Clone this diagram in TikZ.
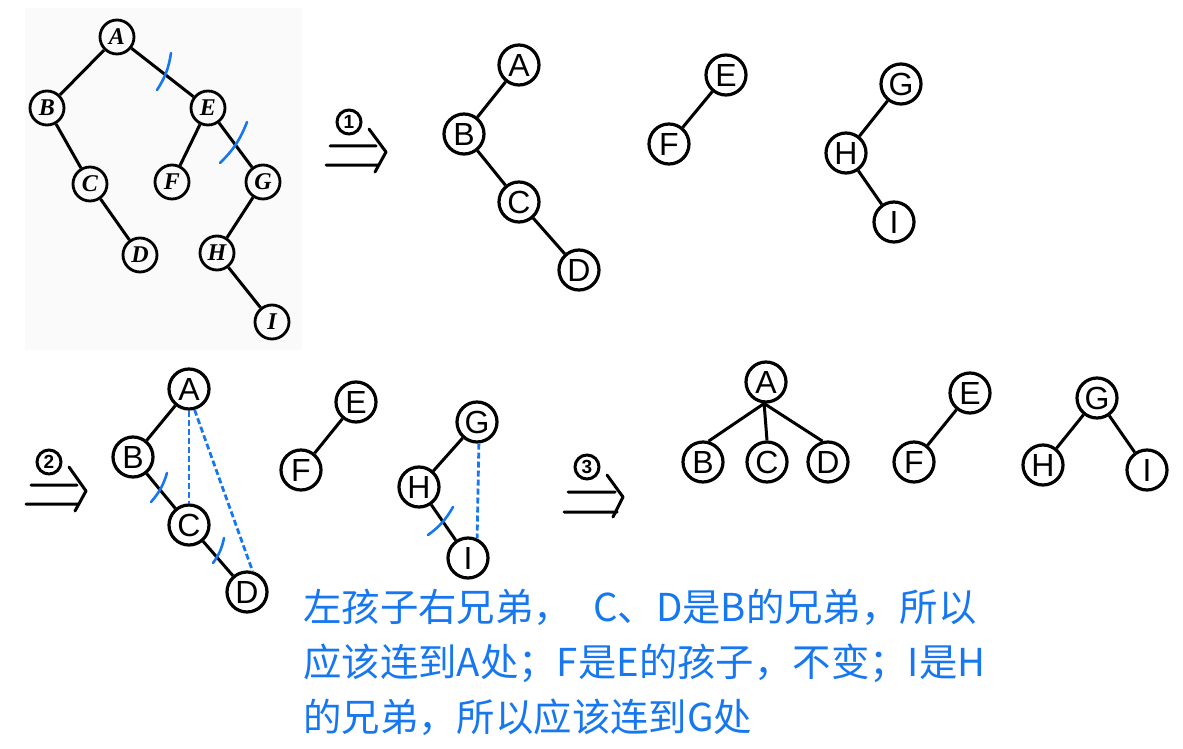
\documentclass[tikz,border=0pt]{standalone}
\usepackage{fontspec}
\setmainfont{Liberation Sans}
\newfontfamily\cjk{Noto Sans CJK SC}
\newfontfamily\printed{Liberation Serif}
\definecolor{hblue}{RGB}{22,119,240}
\definecolor{bgray}{RGB}{250,250,250}
\begin{document}
\begin{tikzpicture}[x=1pt,y=-1pt,
  onode/.style={circle,draw,line width=2.8pt,minimum size=34pt,inner sep=0pt,font=\printed\bfseries\itshape\fontsize{24}{24}\selectfont},
  hnode/.style={circle,draw,line width=3.2pt,minimum size=40pt,inner sep=0pt,font=\fontsize{32}{32}\selectfont},
  edge/.style={line width=3pt},
  dashedge/.style={hblue,line width=2.8pt,dash pattern=on 6pt off 3pt},
  cut/.style={hblue,line width=2.6pt,line cap=round},
  numc/.style={circle,draw,line width=3pt,minimum size=24pt,inner sep=0pt,font=\bfseries\fontsize{19}{19}\selectfont},
  arr/.style={line width=3pt,line cap=round,line join=round}]
\useasboundingbox (0,0) rectangle (1183,749);
\fill[bgray] (25,8) rectangle (302,350);
% original binary tree
\node[onode] (oA) at (117,37) {A};
\node[onode] (oB) at (47,108) {B};
\node[onode] (oE) at (208,108) {E};
\node[onode] (oC) at (90,184) {C};
\node[onode] (oF) at (172,182) {F};
\node[onode] (oG) at (263,182) {G};
\node[onode] (oD) at (140,255) {D};
\node[onode] (oH) at (217,253) {H};
\node[onode] (oI) at (272,322) {I};
\draw[edge] (oA)--(oB) (oA)--(oE) (oB)--(oC) (oC)--(oD) (oE)--(oF) (oE)--(oG) (oG)--(oH) (oH)--(oI);
\draw[cut] (157,90) to[bend right=12] (171,53);
\draw[cut] (220,163) to[bend right=12] (247,122);
% step 1
\node[numc] (n1) at (349,122) {1};
\draw[arr] (330,146)--(376,146) (326,165)--(378,165) (369,129)--(386,152)--(375,172);
\node[hnode] (aA) at (519,65) {A};
\node[hnode] (aB) at (464,134) {B};
\node[hnode] (aC) at (519,202) {C};
\node[hnode] (aD) at (579,270) {D};
\node[hnode] (aE) at (726,75) {E};
\node[hnode] (aF) at (669,144) {F};
\node[hnode] (aG) at (901,84) {G};
\node[hnode] (aH) at (846,153) {H};
\node[hnode] (aI) at (894,222) {I};
\draw[edge] (aA)--(aB) (aB)--(aC) (aC)--(aD) (aE)--(aF) (aG)--(aH) (aH)--(aI);
% step 2
\node[numc] (n2) at (49,462) {2};
\draw[arr] (31,485)--(77,485) (26,504)--(78,504) (69,467)--(86,491)--(75,511);
\node[hnode] (bA) at (189,389) {A};
\node[hnode] (bB) at (133,457) {B};
\node[hnode] (bC) at (189,525) {C};
\node[hnode] (bD) at (247,592) {D};
\node[hnode] (bE) at (356,402) {E};
\node[hnode] (bF) at (301,470) {F};
\node[hnode] (bG) at (477,422) {G};
\node[hnode] (bH) at (419,487) {H};
\node[hnode] (bI) at (468,558) {I};
\draw[edge] (bA)--(bB) (bB)--(bC) (bC)--(bD) (bE)--(bF) (bG)--(bH) (bH)--(bI);
\draw[dashedge] (bA.south)--(bC.north);
\draw[dashedge] (bA.-75)--(bD.75);
\draw[dashedge] (bG.-85)--(bI.65);
\draw[cut] (151,502) to[bend right=12] (167,473);
\draw[cut] (213,563) to[bend right=12] (224,538);
\draw[cut] (428,535) to[bend right=12] (453,507);
% step 3
\node[numc] (n3) at (587,467) {3};
\draw[arr] (568,492)--(615,492) (564,512)--(617,512) (607,475)--(623,497)--(613,517);
\node[hnode] (cA) at (766,382) {A};
\node[hnode] (cB) at (703,462) {B};
\node[hnode] (cC) at (767,462) {C};
\node[hnode] (cD) at (828,462) {D};
\node[hnode] (cE) at (970,393) {E};
\node[hnode] (cF) at (914,462) {F};
\node[hnode] (cG) at (1097,398) {G};
\node[hnode] (cH) at (1043,465) {H};
\node[hnode] (cI) at (1147,470) {I};
\draw[edge] (cA.265)--(cB.75) (cA.265)--(cC.north) (cA.265)--(cD.105);
\draw[edge] (cE)--(cF) (cG)--(cH) (cG)--(cI);
% explanation
\node[anchor=north west,inner sep=0pt,align=left,text=hblue,font=\cjk\fontsize{38.4}{55}\selectfont] (txt) at (303,589)
{左孩子右兄弟，\hspace{0.55em}C、D是B的兄弟，所以\\应该连到A处；F是E的孩子，不变；I是H\\的兄弟，所以应该连到G处};
\end{tikzpicture}
\end{document}
